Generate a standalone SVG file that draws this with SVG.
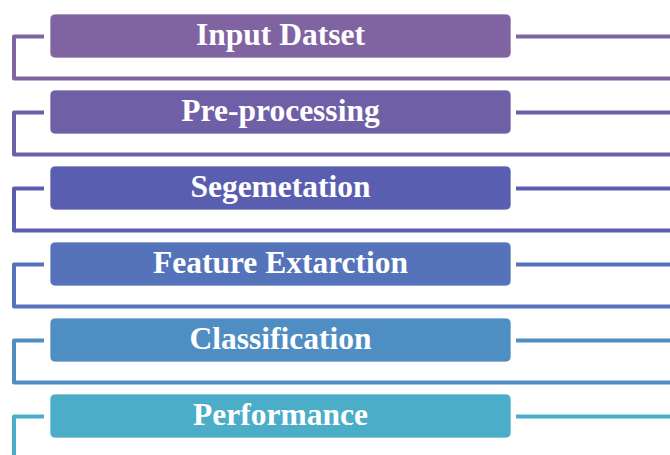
<svg xmlns="http://www.w3.org/2000/svg" width="670" height="455" viewBox="0 0 670 455">
  <style>
    .box { stroke: #ffffff; stroke-opacity: 0.7; stroke-width: 1; }
    .lbl { font-family: "Liberation Serif", "Times New Roman", serif; font-weight: bold; font-size: 31.5px; fill: #ffffff; text-anchor: middle; }
    .wire { fill: none; stroke-width: 4; stroke-linejoin: round; }
  </style>

  <!-- connectors: left bracket + right rail for each stage -->
  <g id="connectors">
    <path class="wire" stroke="#8064A2" d="M44 36.5 H14 V78.5 H670"/>
    <path class="wire" stroke="#8064A2" d="M516 36.5 H670"/>
    <path class="wire" stroke="#6E5FA7" d="M44 112.5 H14 V154.5 H670"/>
    <path class="wire" stroke="#6E5FA7" d="M516 112.5 H670"/>
    <path class="wire" stroke="#5A5EB0" d="M44 188.5 H14 V230.5 H670"/>
    <path class="wire" stroke="#5A5EB0" d="M516 188.5 H670"/>
    <path class="wire" stroke="#5573BA" d="M44 264.5 H14 V306.5 H670"/>
    <path class="wire" stroke="#5573BA" d="M516 264.5 H670"/>
    <path class="wire" stroke="#4F8EC2" d="M44 340.5 H14 V382.5 H670"/>
    <path class="wire" stroke="#4F8EC2" d="M516 340.5 H670"/>
    <path class="wire" stroke="#4BADC7" d="M44 416.5 H14 V460"/>
    <path class="wire" stroke="#4BADC7" d="M516 416.5 H670"/>
  </g>

  <g id="input-dataset">
    <rect class="box" x="50" y="14" width="461" height="44" rx="5" fill="#8064A2"/>
    <text class="lbl" x="280.5" y="45">Input Datset</text>
  </g>
  <g id="pre-processing">
    <rect class="box" x="50" y="90" width="461" height="44" rx="5" fill="#6E5FA7"/>
    <text class="lbl" x="280.5" y="121">Pre-processing</text>
  </g>
  <g id="segmentation">
    <rect class="box" x="50" y="166" width="461" height="44" rx="5" fill="#5A5EB0"/>
    <text class="lbl" x="280.5" y="197">Segemetation</text>
  </g>
  <g id="feature-extraction">
    <rect class="box" x="50" y="242" width="461" height="44" rx="5" fill="#5573BA"/>
    <text class="lbl" x="280.5" y="273">Feature Extarction</text>
  </g>
  <g id="classification">
    <rect class="box" x="50" y="318" width="461" height="44" rx="5" fill="#4F8EC2"/>
    <text class="lbl" x="280.5" y="349">Classification</text>
  </g>
  <g id="performance">
    <rect class="box" x="50" y="394" width="461" height="44" rx="5" fill="#4BADC7"/>
    <text class="lbl" x="280.5" y="425">Performance</text>
  </g>
</svg>
